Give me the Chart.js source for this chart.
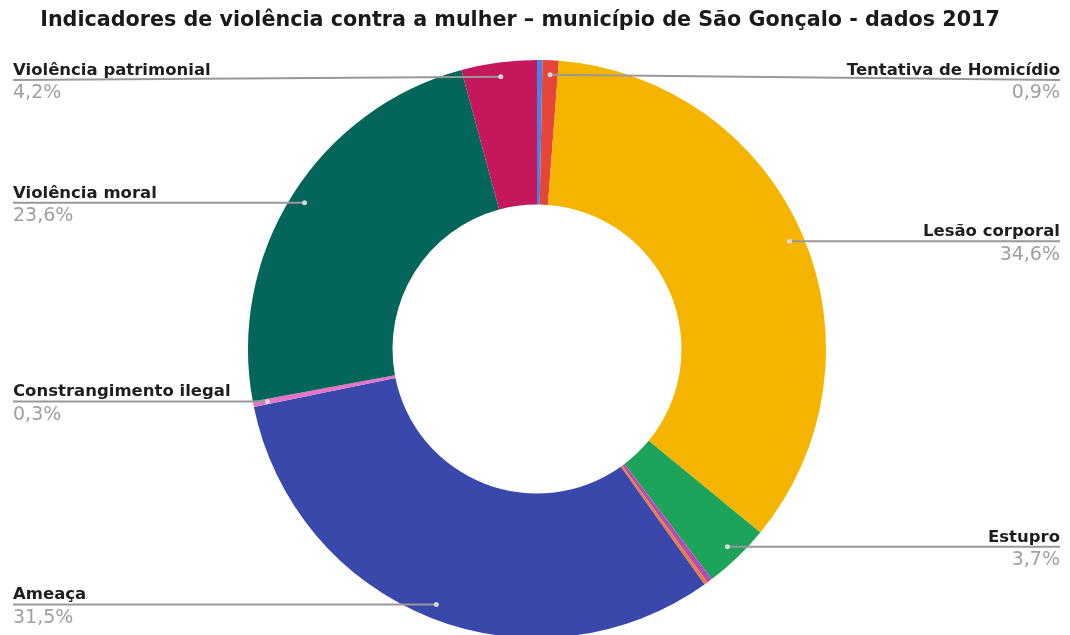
<!DOCTYPE html>
<html>
<head>
<meta charset="utf-8">
<script src="https://cdn.jsdelivr.net/npm/chart.js"></script>
<style>
  body { margin: 0; background: #fff; overflow: hidden; }
</style>
</head>
<body>
<canvas id="myChart" width="1070" height="645"></canvas>
<script>
// dados 2017 - São Gonçalo
var categorias = ['Feminicídio', 'Tentativa de Homicídio', 'Lesão corporal', 'Estupro',
    'Violência psicológica', 'Violência sexual', 'Ameaça', 'Constrangimento ilegal',
    'Violência moral', 'Violência patrimonial'];
var valores = [0.3, 0.9, 34.6, 3.7, 0.3, 0.2, 31.5, 0.3, 23.6, 4.2];
var mostrarRotulo = [false, true, true, true, false, false, true, true, true, true];
var cores = ['#4a80e6', '#e6453a', '#f5b400', '#1ea35a', '#b24db5', '#f07a3c',
    '#3a47ab', '#e874c8', '#04665a', '#c4175c'];

var titulo = 'Indicadores de violência contra a mulher – município de São Gonçalo - dados 2017';

function pct(v) {
    return v.toFixed(1).replace('.', ',') + '%';
}

// leader lines + labels like google sheets
var rotulos = {
    id: 'rotulos',
    afterDraw: function (chart) {
        var ctx = chart.ctx;
        var meta = chart.getDatasetMeta(0);
        ctx.save();

        ctx.font = 'bold 20.7px "DejaVu Sans"';
        ctx.fillStyle = '#1a1a1a';
        ctx.textAlign = 'center';
        ctx.textBaseline = 'middle';
        ctx.fillText(titulo, 520, 21);

        meta.data.forEach(function (arc, i) {
            if (!mostrarRotulo[i]) return;
            var mid = (arc.startAngle + arc.endAngle) / 2;
            var r = arc.outerRadius * 0.95;
            var dx = arc.x + r * Math.cos(mid);
            var dy = arc.y + r * Math.sin(mid);
            var direita = Math.cos(mid) > 0;
            var ex = direita ? 1060 : 13;
            var ey = Math.max(dy, 80);

            ctx.strokeStyle = '#999';
            ctx.lineWidth = 2;
            ctx.beginPath();
            ctx.moveTo(dx, dy);
            ctx.lineTo(ex, ey);
            ctx.stroke();

            ctx.fillStyle = 'rgba(225,225,225,0.9)';
            ctx.beginPath();
            ctx.arc(dx, dy, 2.5, 0, Math.PI * 2);
            ctx.fill();

            ctx.textAlign = direita ? 'right' : 'left';
            ctx.font = 'bold 16.5px "DejaVu Sans"';
            ctx.fillStyle = '#1e1e1e';
            ctx.textBaseline = 'alphabetic';
            ctx.fillText(categorias[i], ex, ey - 5);

            ctx.font = '19px "DejaVu Sans"';
            ctx.fillStyle = '#a0a0a0';
            ctx.textBaseline = 'top';
            ctx.fillText(pct(valores[i]), ex, ey + 4);
        });
        ctx.restore();
    }
};

var chartBlock = document.getElementById('myChart');
var myChart = new Chart(chartBlock, {
    type: 'doughnut',
    data: {
        labels: categorias,
        datasets: [{
            data: valores,
            backgroundColor: cores,
            borderWidth: 0
        }]
    },
    options: {
        responsive: false,
        animation: false,
        cutout: '50%',
        layout: {
            padding: { top: 60, left: 248, right: 244, bottom: 7 }
        },
        plugins: {
            legend: { display: false },
            tooltip: { enabled: false }
        }
    },
    plugins: [rotulos]
});
</script>
</body>
</html>
